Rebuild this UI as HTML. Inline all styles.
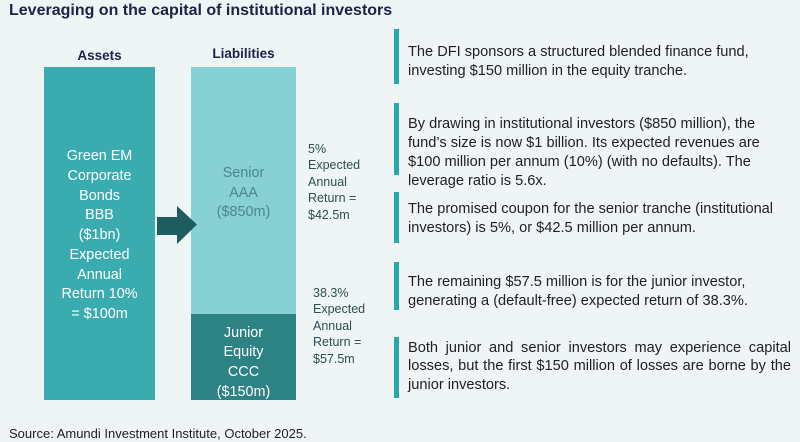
<!DOCTYPE html>
<html><head><meta charset="utf-8">
<style>
*{margin:0;padding:0;box-sizing:border-box}
html,body{width:800px;height:442px;overflow:hidden;background:#eff4f4}
body{position:relative;font-family:"Liberation Sans",Arial,sans-serif}
.a{position:absolute;white-space:nowrap}
.title{left:9px;top:2.5px;font-size:16px;line-height:16px;font-weight:bold;color:#1e2149}
.hdr{font-size:13.5px;line-height:16px;font-weight:bold;color:#1e2149;text-align:center}
.bar{position:absolute;overflow:hidden}
.bt{position:absolute;left:0;right:0;text-align:center;font-size:14.4px;white-space:nowrap}
.side{font-size:12.5px;line-height:16.4px;color:#2e4f52}
.vb{position:absolute;left:394px;width:5px;background:#27a8ac}
.p{position:absolute;left:408px;font-size:14.6px;line-height:19px;color:#1f1f24;white-space:nowrap}
.j{text-align:justify;text-align-last:justify;width:383px}
</style></head><body>
<div class="a title">Leveraging on the capital of institutional investors</div>

<div class="a hdr" style="left:44px;width:111px;top:48px">Assets</div>
<div class="a hdr" style="left:191px;width:105px;top:46px">Liabilities</div>

<div class="bar" style="left:44px;top:67px;width:111px;height:333px;background:#3aacb0">
  <div class="bt" style="top:80px;line-height:19.75px;color:#ffffff">Green EM<br>Corporate<br>Bonds<br>BBB<br>($1bn)<br>Expected<br>Annual<br>Return 10%<br>= $100m</div>
</div>

<div class="bar" style="left:191px;top:67px;width:105px;height:247px;background:#87d1d4">
  <div class="bt" style="top:97.3px;line-height:19.5px;color:#4b878c">Senior<br>AAA<br>($850m)</div>
</div>
<div class="bar" style="left:191px;top:314px;width:105px;height:86px;background:#2d8384">
  <div class="bt" style="top:9.7px;line-height:19.7px;color:#ffffff">Junior<br>Equity<br>CCC<br>($150m)</div>
</div>

<svg class="a" style="left:0;top:0" width="800" height="442">
  <polygon points="157,217 177,217 177,206 197,224.5 177,244 177,235 157,235" fill="#1d5d5f"/>
</svg>

<div class="a side" style="left:308px;top:141px">5%<br>Expected<br>Annual<br>Return =<br>$42.5m</div>
<div class="a side" style="left:313px;top:285px">38.3%<br>Expected<br>Annual<br>Return =<br>$57.5m</div>

<div class="vb" style="top:29px;height:55px"></div>
<div class="p" style="top:42.5px">The DFI sponsors a structured blended finance fund,<br>investing $150 million in the equity tranche.</div>

<div class="vb" style="top:103px;height:72px"></div>
<div class="p" style="top:114.5px">By drawing in institutional investors ($850 million), the<br>fund’s size is now $1 billion. Its expected revenues are<br>$100 million per annum (10%) (with no defaults). The<br>leverage ratio is 5.6x.</div>

<div class="vb" style="top:192px;height:51px"></div>
<div class="p" style="top:199.5px">The promised coupon for the senior tranche (institutional<br>investors) is 5%, or $42.5 million per annum.</div>

<div class="vb" style="top:262px;height:48px"></div>
<div class="p" style="top:272.5px">The remaining $57.5 million is for the junior investor,<br>generating a (default-free) expected return of 38.3%.</div>

<div class="vb" style="top:337px;height:61px"></div>
<div class="p j" style="top:338.5px;line-height:18.7px">Both junior and senior investors may experience capital</div>
<div class="p j" style="top:357.2px;line-height:18.7px">losses, but the first $150 million of losses are borne by the</div>
<div class="p" style="top:375.9px;line-height:18.7px">junior investors.</div>

<div class="a" style="left:9px;top:426px;font-size:13px;line-height:16px;color:#1f1f24">Source: Amundi Investment Institute, October 2025.</div>
</body></html>
